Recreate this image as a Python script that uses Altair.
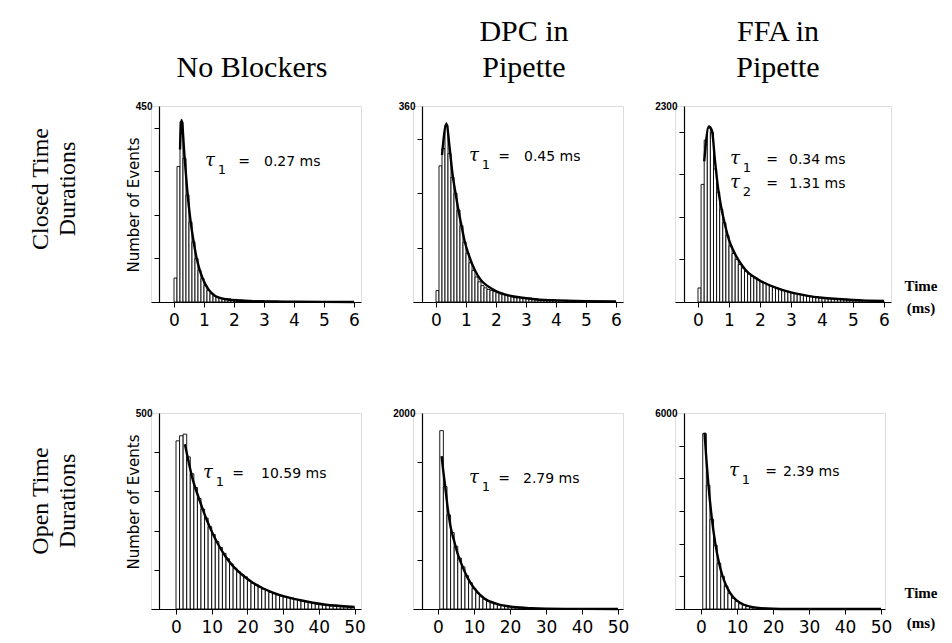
import altair as alt
import pandas as pd

# ---------------- data ----------------
# Closed times, 0.1 ms bins starting at 0
closed_nb = [55, 311, 414, 330, 246, 184, 138, 100, 73, 54,
             38, 27, 19, 14, 11, 9, 8, 8, 7, 6,
             6, 5, 5, 4, 4, 4, 3, 3, 3, 3,
             2, 2, 2, 2, 2, 1, 1, 1, 1, 1,
             1, 1, 1, 1, 1]
closed_dpc = [21, 250, 282, 325, 273, 229, 200, 169, 140, 110,
              90, 72, 58, 46, 37, 30, 26, 23, 21, 19,
              17, 15, 14, 13, 12, 11, 10, 9, 8, 8,
              7, 7, 6, 6, 5, 5, 5, 4, 4, 4,
              3, 3, 3, 3, 2, 2, 2, 2, 2, 2,
              1, 1, 1, 1, 1, 1, 1, 1, 1, 1]
closed_ffa = [165, 1380, 1900, 2040, 1990, 1560, 1290, 1090, 930, 780,
              660, 570, 500, 440, 400, 360, 330, 305, 285, 262,
              240, 222, 205, 190, 176, 164, 150, 138, 127, 117,
              108, 100, 92, 85, 78, 72, 66, 61, 56, 52,
              48, 44, 40, 37, 34, 31, 29, 27, 25, 23,
              21, 19, 18, 16, 15, 14, 13, 12, 11, 10]
# Open times, 1 ms bins
open_nb = [429, 442, 446, 388, 345, 310, 282, 255, 232, 210,
           190, 172, 157, 142, 128, 115, 104, 95, 88, 82,
           72, 66, 62, 56, 51, 47, 42, 39, 36, 33,
           31, 29, 28, 25, 22, 20, 18, 17, 14, 13,
           12, 11, 9, 8, 7, 6, 5, 5, 4, 4]
open_dpc = [1820, 1250, 960, 780, 640, 520, 430, 340, 270, 210,
            165, 125, 100, 80, 65, 52, 42, 34, 27, 22,
            18, 14, 11, 9, 7, 6, 5, 4, 3, 3,
            2, 2, 1, 1, 1, 1, 1]
open_ffa = [5370, 3790, 2750, 1950, 1400, 1000, 700, 480, 330, 230,
            160, 115, 80, 57, 40, 30, 22, 16, 12, 9,
            7, 5, 4, 3, 2, 2, 1, 1, 1, 1]

# fitted curves
fit_closed_nb_t = [0.2, 0.25, 0.35, 0.45, 0.55, 0.65, 0.75, 0.85, 0.95, 1.05, 1.15, 1.25, 1.35, 1.5, 1.75, 2.0, 2.5, 3.0, 4.0, 5.0, 6.0]
fit_closed_nb_n = [350, 418, 335, 250, 187, 140, 102, 75, 55, 40, 29, 21, 15, 10, 6, 4, 2, 1, 0.5, 0.2, 0.1]
fit_closed_dpc_t = [0.2, 0.35, 0.45, 0.55, 0.65, 0.75, 0.85, 0.95, 1.1, 1.3, 1.5, 1.7, 2.0, 2.5, 3.0, 3.5, 4.0, 5.0, 6.0]
fit_closed_dpc_n = [270, 328, 285, 235, 200, 168, 140, 113, 85, 58, 40, 30, 20, 11, 7, 4, 3, 1.5, 0.8]
fit_closed_ffa_t = [0.2, 0.35, 0.45, 0.55, 0.65, 0.75, 0.85, 1.0, 1.2, 1.4, 1.6, 1.8, 2.0, 2.5, 3.0, 3.5, 4.0, 4.5, 5.0, 5.5, 6.0]
fit_closed_ffa_n = [1650, 2060, 2010, 1650, 1330, 1110, 940, 730, 560, 440, 350, 295, 250, 170, 112, 75, 50, 35, 23, 16, 11]
fit_open_nb_t = [2.5, 4.7, 6.5, 8.4, 10.3, 12.1, 14.0, 15.9, 18.7, 21.5, 24.3, 27.1, 30.8, 34.5, 38.3, 42, 46, 50]
fit_open_nb_n = [420, 330, 280, 232, 192, 160, 132, 110, 86, 67, 53, 42, 31, 23, 16, 11, 8, 5]
fit_open_dpc_t = [1.0, 1.5, 2.0, 2.7, 3.5, 4.6, 5.5, 6.4, 8.2, 10, 12.8, 16.6, 21, 26, 30, 40, 50]
fit_open_dpc_n = [1560, 1400, 1250, 1030, 840, 680, 560, 470, 320, 215, 110, 50, 20, 8, 4, 1, 0.3]
fit_open_ffa_t = [1.0, 1.5, 2.0, 3.0, 4.0, 5.0, 6.0, 7.0, 8.0, 9.0, 10, 12, 14, 16, 20, 25, 30, 40, 50]
fit_open_ffa_n = [5400, 4600, 3900, 2800, 2000, 1420, 1010, 720, 510, 360, 255, 130, 65, 33, 9, 2, 0.5, 0.1, 0]

closed_ticks = [0, 1, 2, 3, 4, 5, 6]
open_ticks = [0, 10, 20, 30, 40, 50]

col_titles = ["No Blockers", "DPC in\nPipette", "FFA in\nPipette"]
row_titles = ["Closed Time\nDurations", "Open Time\nDurations"]
tau_closed = [["0.27 ms"], ["0.45 ms"], ["0.34 ms", "1.31 ms"]]
tau_open = [["10.59 ms"], ["2.79 ms"], ["2.39 ms"]]

# ---------------- helpers ----------------
TICK_FONT = "DejaVu Sans"
TITLE_FONT = "Liberation Serif"


def txt(s, px, py, **kw):
    return alt.Chart(pd.DataFrame({"s": [s]})).mark_text(lineBreak="\n", **kw).encode(
        x=alt.value(px), y=alt.value(py), text="s:N")


def panel(counts, b0, bw, ft, fn, xdom, xticks, ymax, yticks, yoff, width, height, extras):
    n = len(counts)
    bars_df = pd.DataFrame({"t0": [b0 + i * bw for i in range(n)],
                            "t1": [b0 + (i + 1) * bw for i in range(n)],
                            "n": counts})
    fit_df = pd.DataFrame({"t": ft, "n": fn})
    xs = alt.Scale(domain=xdom, nice=False, zero=False)
    ys = alt.Scale(domain=[0, ymax], nice=False)
    xaxis = alt.Axis(values=xticks, title=None, grid=False, format="d",
                     domainColor="black", domainWidth=1.2, tickColor="black", tickSize=5,
                     labelFont=TICK_FONT, labelFontSize=17, labelColor="black",
                     labelPadding=5, labelFlush=False, labelOverlap=False)
    yaxis = alt.Axis(values=yticks + [ymax], title=None, grid=False, offset=yoff,
                     domainColor="black", domainWidth=1.2, tickColor="black", tickSize=5,
                     tickOpacity={"condition": {"test": f"datum.value == {ymax}", "value": 0}, "value": 1},
                     labelExpr=f"datum.value == {ymax} ? '{ymax}' : ''",
                     labelFont="Liberation Sans", labelFontSize=10, labelFontWeight="bold",
                     labelColor="black", labelPadding=2, labelOverlap=False)
    bars = alt.Chart(bars_df).mark_rect(fill="white", stroke="black", strokeWidth=0.9).encode(
        x=alt.X("t0:Q", scale=xs, axis=xaxis), x2="t1:Q",
        y=alt.Y("n:Q", scale=ys, axis=yaxis), y2=alt.datum(0))
    fit = alt.Chart(fit_df).mark_line(color="black", strokeWidth=2.4, interpolate="monotone").encode(
        x=alt.X("t:Q", scale=xs, axis=xaxis), y=alt.Y("n:Q", scale=ys, axis=yaxis))
    return alt.layer(bars, fit, *extras).properties(width=width, height=height)


def tau_block(values, tx, ty, eqx, vx, dy=24):
    out = []
    for i, v in enumerate(values):
        y = ty + i * dy
        out += [
            txt("\u03c4", tx, y, font="DejaVu Serif", fontStyle="italic", fontSize=18, color="black"),
            txt(str(i + 1), tx + 12, y + 9, font=TICK_FONT, fontSize=13, color="black"),
            txt("=", eqx, y + 1, font=TICK_FONT, fontSize=14, color="black"),
            txt(v, vx, y + 1, font=TICK_FONT, fontSize=14, color="black", align="left"),
        ]
    return out


W, H = 210, 196
LH = 36
title_kw = dict(font=TITLE_FONT, fontSize=30, color="black", baseline="alphabetic", lineHeight=LH)
row_kw = dict(font=TITLE_FONT, fontSize=24, color="black", angle=270, lineHeight=27)
nev_kw = dict(font=TICK_FONT, fontSize=15, color="black", angle=270)
time_kw = dict(font="Liberation Serif", fontSize=15, fontWeight="bold", color="black")

anchor = alt.Chart(pd.DataFrame({"a": [0]})).mark_rule(opacity=0, strokeWidth=0.5).encode(
    x=alt.value(-142), x2=alt.value(-142), y=alt.value(-97), y2=alt.value(-96))

TY = -29  # baseline of the last title line, relative to plot top

tl = panel(closed_nb, 0, 0.1, fit_closed_nb_t, fit_closed_nb_n, [-0.767, 6.233], closed_ticks,
           450, [100, 200, 300, 400], -8, W, H,
           [anchor,
            txt(col_titles[0], 101, TY, **title_kw),
            txt(row_titles[0], -110, 83, **row_kw),
            txt("Number of Events", -17, 99, **nev_kw)]
           + tau_block(tau_closed[0], 59, 55, 93, 113))
tm = panel(closed_dpc, 0, 0.1, fit_closed_dpc_t, fit_closed_dpc_n, [-0.767, 6.233], closed_ticks,
           360, [100, 200, 300], -9, W, H,
           [txt(col_titles[1], 111, TY - LH, **title_kw)]
           + tau_block(tau_closed[1], 61, 50, 91, 111))
tr = panel(closed_ffa, 0, 0.1, fit_closed_ffa_t, fit_closed_ffa_n, [-0.742, 6.226], closed_ticks,
           2300, [500, 1000, 1500, 2000], -9, 216, H,
           [txt(col_titles[2], 103, TY - LH, **title_kw),
            txt("Time", 246, 180, **time_kw),
            txt("(ms)", 246, 202, **time_kw)]
           + tau_block(tau_closed[2], 60, 53, 97, 114))

bl = panel(open_nb, 0, 1.0, fit_open_nb_t, fit_open_nb_n, [-7.0, 51.8], open_ticks,
           500, [100, 200, 300, 400], -8, W, H,
           [txt(row_titles[1], -110, 88, **row_kw),
            txt("Number of Events", -17, 89, **nev_kw)]
           + tau_block(tau_open[0], 57, 60, 87, 110))
bm = panel(open_dpc, 0.5, 1.0, fit_open_dpc_t, fit_open_dpc_n, [-6.94, 51.4], open_ticks,
           2000, [500, 1000, 1500], -9, W, H,
           tau_block(tau_open[1], 61, 65, 91, 110))
br = panel(open_ffa, 0.5, 1.0, fit_open_ffa_t, fit_open_ffa_n, [-7.2, 51.1], open_ticks,
           6000, [1000, 2000, 3000, 4000, 5000], -9, W, H,
           [txt("Time", 246, 180, **time_kw),
            txt("(ms)", 246, 210, **time_kw)]
           + tau_block(tau_open[2], 59, 58, 96, 108))

chart = alt.concat(tl, tm, tr, bl, bm, br, columns=3,
                   spacing={"row": 111, "column": 52}, bounds="flush",
                   padding={"left": 0, "top": 0, "right": 0, "bottom": 0}
                   ).configure_view(stroke=None, strokeWidth=0).configure(background="white")

chart.save("out.html", embed_options={"renderer": "svg", "actions": False})
